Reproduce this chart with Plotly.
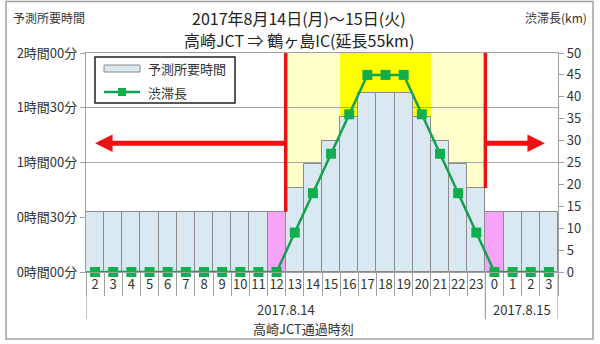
import plotly.graph_objects as go

# ---------------- data ----------------
hours = [2, 3, 4, 5, 6, 7, 8, 9, 10, 11, 12, 13, 14, 15, 16, 17, 18, 19, 20, 21, 22, 23, 0, 1, 2, 3]
travel_min = [33, 33, 33, 33, 33, 33, 33, 33, 33, 33, 33,
              46, 59, 72, 85, 98, 98, 98, 85, 72, 59, 46,
              33, 33, 33, 33]
jam_km = [0, 0, 0, 0, 0, 0, 0, 0, 0, 0, 0,
          9, 18, 27, 36, 45, 45, 45, 36, 27, 18, 9,
          0, 0, 0, 0]
date_labels = ["2017.8.14", "2017.8.15"]
time_ticks = [0, 30, 60, 90, 120]
time_tick_text = ["0時間00分", "0時間30分", "1時間00分", "1時間30分", "2時間00分"]
jam_ticks = list(range(0, 51, 5))
edge_hours = [12, 0]

# ---------------- layout constants ----------------
W, H = 600, 344
L, R, T, B = 86, 558, 53, 272
FONT = "Noto Sans CJK JP"
GREY = "#A0A0A0"
TXT = "#333333"


def px(x):
    return (x - L) / (R - L)


def py(y):
    return (B - y) / (B - T)


idx = list(range(len(hours)))
bar_colors = ["#F7A3F7" if h in edge_hours else "#DAE8F1" for h in hours]

jam_idx = [i for i, v in enumerate(jam_km) if v > 0]
peak_idx = [i for i, v in enumerate(jam_km) if v >= 36]
day2_start = hours.index(0)

fig = go.Figure()

fig.add_trace(go.Bar(
    x=idx, y=travel_min, width=1,
    marker=dict(color=bar_colors, line=dict(color="#8C8C8C", width=1)),
    showlegend=False, hoverinfo="skip",
))
fig.add_trace(go.Scatter(
    x=idx, y=jam_km, yaxis="y2", mode="lines+markers", cliponaxis=False,
    line=dict(color="#14A150", width=2.5),
    marker=dict(symbol="square", size=10, color="#10AE4F"),
    showlegend=False, hoverinfo="skip",
))

shapes = []
# congestion backgrounds
shapes.append(dict(type="rect", xref="x", yref="y", x0=jam_idx[0] - 0.5, x1=jam_idx[-1] + 0.5,
                   y0=0, y1=120, fillcolor="#FFFFCC", line=dict(width=0), layer="below"))
shapes.append(dict(type="rect", xref="x", yref="y", x0=peak_idx[0] - 0.5, x1=peak_idx[-1] + 0.5,
                   y0=0, y1=120, fillcolor="#FFFF00", line=dict(width=0), layer="below"))
# red boundary lines
shapes.append(dict(type="line", xref="x", yref="y", x0=jam_idx[0] - 0.5, x1=jam_idx[0] - 0.5,
                   y0=travel_min[jam_idx[0] - 1], y1=120, line=dict(color="#EE1111", width=3.5)))
shapes.append(dict(type="line", xref="x", yref="y", x0=jam_idx[-1] + 0.5, x1=jam_idx[-1] + 0.5,
                   y0=travel_min[jam_idx[-1]], y1=120, line=dict(color="#EE1111", width=3.5)))
# long category group dividers
for xv in [-0.5, day2_start - 0.5, len(hours) - 0.5]:
    shapes.append(dict(type="line", xref="x", yref="paper", x0=xv, x1=xv,
                       y0=0, y1=py(319), line=dict(color=GREY, width=1.2)))
# legend box
shapes.append(dict(type="rect", xref="paper", yref="paper", x0=px(95), x1=px(235),
                   y0=py(103), y1=py(57), fillcolor="white", line=dict(color="#222222", width=1.5)))
shapes.append(dict(type="rect", xref="paper", yref="paper", x0=px(104), x1=px(140),
                   y0=py(72), y1=py(65), fillcolor="#DAE8F1", line=dict(color="#8C8C8C", width=1)))
shapes.append(dict(type="line", xref="paper", yref="paper", x0=px(104), x1=px(140),
                   y0=py(92), y1=py(92), line=dict(color="#14A150", width=2.5)))
shapes.append(dict(type="rect", xref="paper", yref="paper", x0=px(118), x1=px(126),
                   y0=py(96), y1=py(88), fillcolor="#10AE4F", line=dict(width=0)))
# outer frame
shapes.append(dict(type="rect", xref="paper", yref="paper", x0=px(6), x1=px(593),
                   y0=py(339), y1=py(1.5), line=dict(color=GREY, width=1.5)))

annotations = []
# arrows
ARW = dict(showarrow=True, arrowhead=2, arrowsize=0.7, arrowwidth=5, arrowcolor="#EE1111",
           xref="x", yref="y", axref="x", ayref="y", text="")
annotations.append(dict(ARW, x=0.0, y=70.5, ax=jam_idx[0] - 0.5, ay=70.5))
annotations.append(dict(ARW, x=24.78, y=70.5, ax=jam_idx[-1] + 0.5, ay=70.5))


# texts
def txt(s, x, y, size=13, xanchor="center", color=TXT):
    annotations.append(dict(text=s, xref="paper", yref="paper", x=px(x), y=py(y),
                            xanchor=xanchor, yanchor="middle", showarrow=False,
                            font=dict(family=FONT, size=size, color=color)))


txt("2017年8月14日(月)～15日(火)", 299, 18, size=16, color="#222222")
txt("高崎JCT ⇒ 鶴ヶ島IC(延長55km)", 299, 40.5, size=16, color="#222222")
txt("予測所要時間", 11, 17, size=12, xanchor="left")
txt("渋滞長(km)", 589, 17, size=12, xanchor="right")
txt("予測所要時間", 146, 68, size=13, xanchor="left")
txt("渋滞長", 146, 92, size=13, xanchor="left")
txt(date_labels[0], L + day2_start / 2 / len(hours) * (R - L), 309, size=13)
txt(date_labels[1], L + (day2_start + len(hours)) / 2 / len(hours) * (R - L), 309, size=13)
txt("高崎JCT通過時刻", 303, 328, size=13)

fig.update_layout(
    width=W, height=H,
    margin=dict(l=L, r=W - R, t=T, b=H - B),
    paper_bgcolor="white", plot_bgcolor="white",
    font=dict(family=FONT, size=13, color=TXT),
    bargap=0,
    shapes=shapes, annotations=annotations,
    xaxis=dict(
        range=[-0.5, len(hours) - 0.5], tickmode="array", tickvals=idx,
        ticktext=[str(h) for h in hours], ticks="", showgrid=False,
        showline=True, linecolor=GREY, linewidth=1.2, mirror=True,
        tickfont=dict(size=13, color=TXT),
        minor=dict(tickmode="array", tickvals=[i - 0.5 for i in range(len(hours) + 1)],
                   ticks="outside", ticklen=23, tickcolor=GREY, tickwidth=1.2, showgrid=False),
    ),
    yaxis=dict(
        range=[0, 120], tickmode="array", tickvals=time_ticks, ticktext=time_tick_text,
        ticks="outside", ticklen=5, tickcolor=GREY, showline=True, linecolor=GREY, linewidth=1.2,
        showgrid=True, gridcolor="#A6A6A6", gridwidth=1, zeroline=False,
        tickfont=dict(size=13, color=TXT),
    ),
    yaxis2=dict(
        range=[0, 50], overlaying="y", side="right", tickmode="array", tickvals=jam_ticks,
        ticks="outside", ticklen=5, tickcolor=GREY, showline=True, linecolor=GREY, linewidth=1.2,
        showgrid=False, zeroline=False, tickfont=dict(size=13, color=TXT),
    ),
)

fig.write_html("out.html")
